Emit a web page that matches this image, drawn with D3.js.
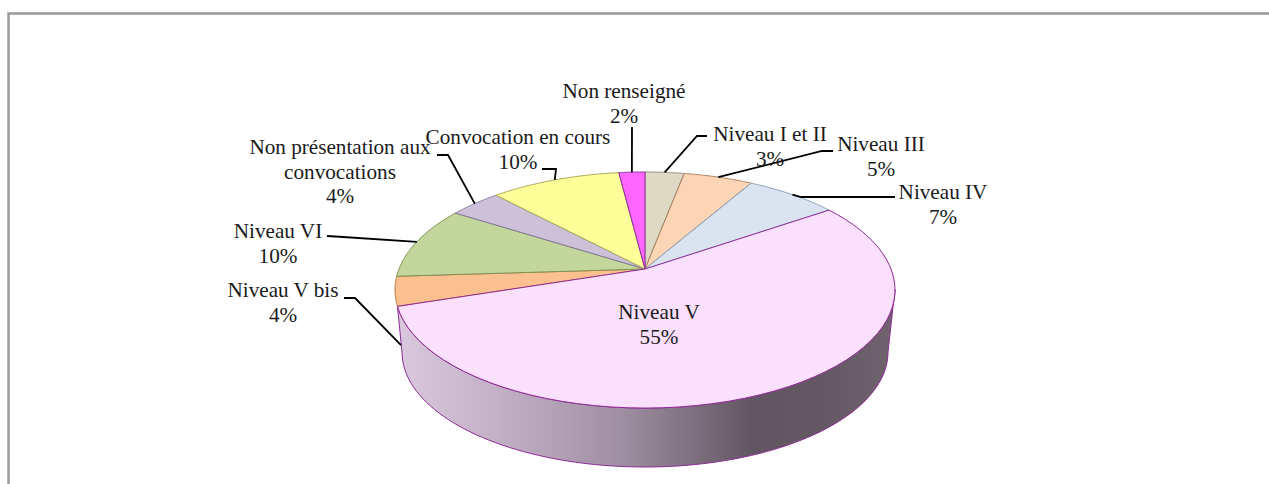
<!DOCTYPE html>
<html lang="fr">
<head>
<meta charset="utf-8">
<script src="https://d3js.org/d3.v7.min.js"></script>
<style>
html,body{margin:0;padding:0;background:#fff;}
svg{display:block;}
text{font-family:"Liberation Serif","Times New Roman",serif;font-size:21.2px;fill:#1a1a1a;text-anchor:middle;}
</style>
</head>
<body>
<svg id="chart" width="1269" height="484"></svg>
<script>
const categories = ["Niveau I et II","Niveau III","Niveau IV","Niveau V","Niveau V bis","Niveau VI","Non présentation aux|convocations","Convocation en cours","Non renseigné"];
const values = [3, 5.3, 7.1, 54.6, 4, 10, 4, 10, 2];
const fills = ["#ddd9c3","#fbd5b5","#d9e4f0","#fbe0fd","#fac08f","#c3d69b","#ccc1d9","#ffff99","#ff66ff"];
const edges = ["#8f8c7a","#a8805f","#8aa0b8","#8e2a96","#b5713c","#7f9355","#85799a","#a9a95e","#8a2a9a"];

// label anchor (x of centre, y of first baseline) for each category
const labelX = [770, 881, 943, 659, 283, 278, 340, 518, 624];
const labelY = [141, 151, 199, 319, 297, 238, 154, 144, 98];
// leader elbows, ending on the slice rim (null = no leader)
const leaderBends = [[[707,136],[697,136]],[[833,151],[822,151]],[[895,197],[801,197]],null,[[344,298],[355,298]],[[327,236],[343,237]],[[437,155],[448,155]],[[542,169],[556,169]],[[632,127]]];

const svg = d3.select("#chart");

// perspective model of the disc
const hub = {x:645, y:269}, persp = 0.178, ax = 246, by = 114.3;
const rim = a => {
  const u = Math.sin(a), v = Math.cos(a), w = 1 + persp * v;
  return [hub.x + ax * u / w, hub.y - by * v / w];
};
const pie = d3.pie().sort(null).value(d => d);
const arcs = pie(values);
const rimPath = (a0, a1) => d3.range(0, 61).map(i => rim(a0 + (a1 - a0) * i / 60));
const line = d3.line();

// frame
svg.append("path").attr("d", line([[8.5,484],[8.5,13.5],[1269,13.5]]))
  .attr("fill","none").attr("stroke","#989898").attr("stroke-width",2.4);

// gradient of the side wall
const defs = svg.append("defs");
const grad = defs.append("linearGradient").attr("id","wall").attr("gradientUnits","userSpaceOnUse")
  .attr("x1",400).attr("x2",890).attr("y1",0).attr("y2",0);
[[0,"#d9c8dd"],[0.2,"#c3b0c6"],[0.45,"#a08fa3"],[0.72,"#615661"],[0.85,"#625762"],[1,"#6f626d"]]
  .forEach(s => grad.append("stop").attr("offset",s[0]).attr("stop-color",s[1]));

// side wall: lower rim is the same circle seen further from the eye
const low = {x:645, y:352, rx:243, ry:115};
const endA = arcs[3].endAngle;
const lowerRim = d3.range(0, 91).map(i => {
  const t = Math.PI * i / 90;
  return [low.x + low.rx * Math.cos(t), low.y + low.ry * Math.sin(t)];
});
svg.append("path").attr("d", line(lowerRim.concat(rimPath(endA, Math.PI * 0.555))) + "Z")
  .attr("fill","url(#wall)").attr("stroke","#8e2a96").attr("stroke-width",1);

// slices
const slicePath = d => line([[hub.x,hub.y]].concat(rimPath(d.startAngle,d.endAngle))) + "Z";
const order = arcs.map((d,i)=>i).filter(i=>i!==3).concat([3]);
svg.selectAll("path.slice").data(order).join("path").attr("class","slice")
  .attr("d", i => slicePath(arcs[i]))
  .attr("fill", i => fills[i])
  .attr("stroke", i => edges[i])
  .attr("stroke-width", 1)
  .attr("stroke-linejoin","round");

// leaders
const rimEnd = i => {
  const d = arcs[i], p = rim((d.startAngle + d.endAngle) / 2);
  return i === 4 ? [p[0] + 6, p[1] + 54] : p;
};
categories.forEach((c, i) => {
  if (!leaderBends[i]) return;
  svg.append("path").attr("d", line(leaderBends[i].concat([rimEnd(i)])))
    .attr("fill","none").attr("stroke","#000").attr("stroke-width",1.8);
});

// labels
const pct = d3.format(".0f");
categories.forEach((c, i) => {
  const lines = c.split("|").concat([pct(values[i]) + "%"]);
  const t = svg.append("text").attr("x",labelX[i]).attr("y",labelY[i]);
  lines.forEach((l, k) => t.append("tspan").attr("x",labelX[i]).attr("dy",k ? 24.5 : 0).text(l));
});
</script>
</body>
</html>
